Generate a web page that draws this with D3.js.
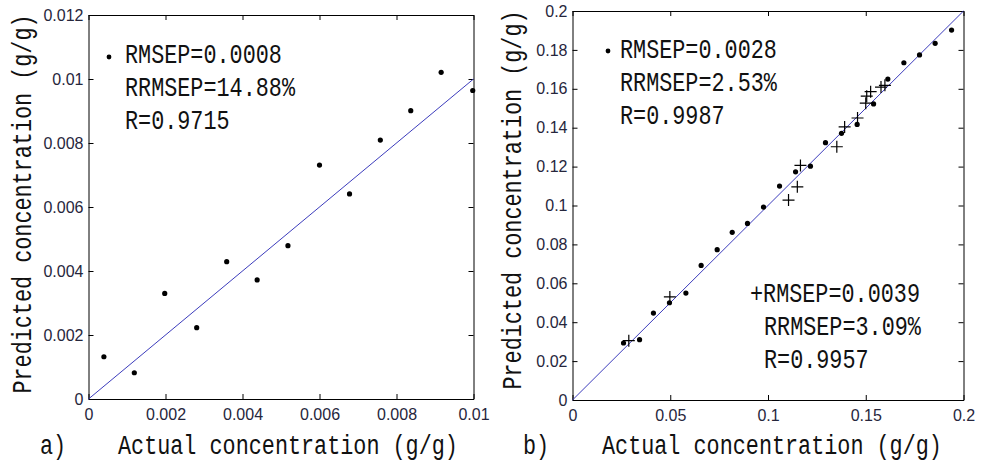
<!DOCTYPE html>
<html><head><meta charset="utf-8">
<script src="https://cdn.jsdelivr.net/npm/d3@7"></script>
<style>body{margin:0;background:#fff} svg{display:block}</style>
</head><body><svg id="c" width="987" height="462"></svg>
<script>
// ---- data ----
const aActual = [0.0004, 0.00119, 0.00198, 0.00281, 0.00359, 0.00438, 0.00518, 0.0060, 0.00678, 0.00758, 0.00837, 0.00916, 0.00998];
const aPred   = [0.00132, 0.00082, 0.00330, 0.00223, 0.00429, 0.00372, 0.00479, 0.00731, 0.00641, 0.00809, 0.00901, 0.01021, 0.00964];

const bDotActual = [0.0261, 0.0343, 0.0414, 0.0496, 0.0580, 0.0658, 0.0740, 0.0817, 0.0895, 0.0977, 0.1059, 0.1141, 0.1217, 0.1294, 0.1376, 0.1456, 0.1540, 0.1613, 0.1695, 0.1775, 0.1855, 0.1939];
const bDotPred   = [0.0293, 0.0310, 0.0447, 0.0500, 0.0550, 0.0692, 0.0773, 0.0862, 0.0908, 0.0992, 0.1100, 0.1173, 0.1202, 0.1323, 0.1371, 0.1417, 0.1522, 0.1650, 0.1734, 0.1774, 0.1834, 0.1902];

const bPlusActual = [0.0288, 0.0498, 0.1105, 0.1150, 0.1166, 0.1352, 0.1392, 0.1458, 0.1500, 0.1505, 0.1525, 0.1578, 0.1598];
const bPlusPred   = [0.0305, 0.0530, 0.1028, 0.1096, 0.1206, 0.1302, 0.1404, 0.1450, 0.1526, 0.1562, 0.1585, 0.1609, 0.1618];

const aXTicks = [0, 0.002, 0.004, 0.006, 0.008, 0.01];
const aYTicks = [0, 0.002, 0.004, 0.006, 0.008, 0.01, 0.012];
const bXTicks = [0, 0.05, 0.1, 0.15, 0.2];
const bYTicks = [0, 0.02, 0.04, 0.06, 0.08, 0.1, 0.12, 0.14, 0.16, 0.18, 0.2];

const aStats = ["RMSEP=0.0008", "RRMSEP=14.88%", "R=0.9715"];
const bDotStats = ["RMSEP=0.0028", "RRMSEP=2.53%", "R=0.9987"];
const bPlusStats = ["+RMSEP=0.0039", "RRMSEP=3.09%", "R=0.9957"];
const xTitle = "Actual concentration (g/g)";
const yTitle = "Predicted concentration (g/g)";
const panelLabels = ["a)", "b)"];

// ---- drawing ----
const svg = d3.select("#c");
svg.append("rect").attr("width", 987).attr("height", 462).attr("fill", "#fff");

const MONO = "'Liberation Mono', 'DejaVu Sans Mono', monospace";
const FS = 21.8, SY = 1.3, LINE_COLOR = "#3c3cbc";

function monoText(g, x, y, str, anchor) {
  return g.append("text")
    .attr("transform", `translate(${x},${y}) scale(1,${SY})`)
    .attr("font-family", MONO).attr("font-size", FS)
    .attr("text-anchor", anchor || "start")
    .attr("fill", "#111").text(str);
}

function panel(cfg) {
  const x = d3.scaleLinear().domain(cfg.xDomain).range([cfg.left, cfg.right]);
  const y = d3.scaleLinear().domain(cfg.yDomain).range([cfg.bottom, cfg.top]);
  const g = svg.append("g");

  const fmt = d3.format("~g");
  const styleAxis = sel => {
    sel.selectAll("path.domain").attr("stroke", "#000").attr("stroke-width", 1);
    sel.selectAll(".tick line").attr("stroke", "#000");
    sel.selectAll("text").attr("font-family", "'Liberation Sans', Arial, sans-serif")
      .attr("font-size", 16).attr("fill", "#26263c");
  };
  g.append("g").attr("transform", `translate(0,${cfg.bottom})`)
    .call(d3.axisBottom(x).tickValues(cfg.xTicks).tickFormat(fmt).tickSizeInner(-5).tickSizeOuter(0).tickPadding(9.5)).call(styleAxis);
  g.append("g").attr("transform", `translate(0,${cfg.top})`)
    .call(d3.axisTop(x).tickValues(cfg.xTicks).tickFormat("").tickSizeInner(-5).tickSizeOuter(0)).call(styleAxis);
  g.append("g").attr("transform", `translate(${cfg.left},0)`)
    .call(d3.axisLeft(y).tickValues(cfg.yTicks).tickFormat(fmt).tickSizeInner(-5).tickSizeOuter(0).tickPadding(5)).call(styleAxis);
  g.append("g").attr("transform", `translate(${cfg.right},0)`)
    .call(d3.axisRight(y).tickValues(cfg.yTicks).tickFormat("").tickSizeInner(-5).tickSizeOuter(0)).call(styleAxis);

  // y = x line
  const lim = Math.min(cfg.xDomain[1], cfg.yDomain[1]);
  g.append("line").attr("x1", x(0)).attr("y1", y(0)).attr("x2", x(lim)).attr("y2", y(lim))
    .attr("stroke", LINE_COLOR).attr("stroke-width", 1);

  // dots
  g.selectAll("circle.d").data(cfg.dotX.map((v, i) => [v, cfg.dotY[i]])).join("circle")
    .attr("cx", d => x(d[0])).attr("cy", d => y(d[1])).attr("r", 2.6).attr("fill", "#000");
  // pluses
  if (cfg.plusX) {
    const s = 6;
    g.selectAll("path.p").data(cfg.plusX.map((v, i) => [v, cfg.plusY[i]])).join("path")
      .attr("d", d => { const cx = x(d[0]), cy = y(d[1]); return `M${cx - s},${cy}H${cx + s}M${cx},${cy - s}V${cy + s}`; })
      .attr("stroke", "#000").attr("stroke-width", 1.2).attr("fill", "none");
  }

  // stats
  cfg.stats.forEach(st => {
    if (st.dot) g.append("circle").attr("cx", st.dot[0]).attr("cy", st.dot[1]).attr("r", 2.4).attr("fill", "#000");
    st.lines.forEach((t, i) => monoText(g, st.xs[i], st.y0 + i * 33, t));
  });

  // titles
  monoText(g, cfg.xTitleX, 454, xTitle);
  monoText(g, cfg.labelX, 454, cfg.label);
  g.append("text")
    .attr("transform", `translate(${cfg.yTitleX},${cfg.yTitleY}) rotate(-90) scale(1,${SY})`)
    .attr("font-family", MONO).attr("font-size", FS).attr("text-anchor", "middle")
    .attr("fill", "#111").text(yTitle);
}

panel({
  left: 88.5, right: 473.5, top: 15, bottom: 399,
  xDomain: [0, 0.01], yDomain: [0, 0.012], xTicks: aXTicks, yTicks: aYTicks,
  dotX: aActual, dotY: aPred,
  stats: [{ dot: [109, 57], xs: [125, 125, 125], y0: 63, lines: aStats }],
  xTitleX: 118, labelX: 40, label: panelLabels[0], yTitleX: 31, yTitleY: 204
});
panel({
  left: 572.5, right: 963.5, top: 11, bottom: 400,
  xDomain: [0, 0.2], yDomain: [0, 0.2], xTicks: bXTicks, yTicks: bYTicks,
  dotX: bDotActual, dotY: bDotPred, plusX: bPlusActual, plusY: bPlusPred,
  stats: [
    { dot: [608, 51], xs: [620, 620, 620], y0: 58, lines: bDotStats },
    { xs: [750, 764, 764], y0: 302, lines: bPlusStats }
  ],
  xTitleX: 602, labelX: 523, label: panelLabels[1], yTitleX: 521, yTitleY: 200
});
</script>
</body></html>
